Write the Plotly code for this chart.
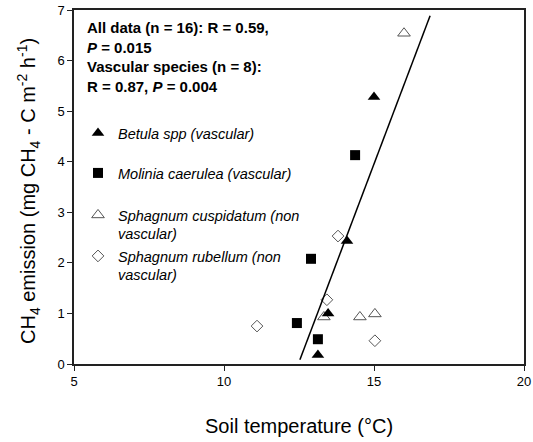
import plotly.graph_objects as go

# Data
betula_x = [15.0, 14.1, 13.47, 13.13]
betula_y = [5.28, 2.43, 1.0, 0.18]
molinia_x = [14.37, 12.9, 12.43, 13.13]
molinia_y = [4.13, 2.08, 0.81, 0.49]
cusp_x = [16.0, 13.33, 14.53, 15.03]
cusp_y = [6.54, 0.93, 0.93, 0.99]
rub_x = [13.8, 13.43, 11.1, 15.03]
rub_y = [2.53, 1.27, 0.75, 0.46]

fit_slope = 1.567
fit_intercept = -19.55
fit_x = [12.53, 16.87]
fit_y = [fit_slope * v + fit_intercept for v in fit_x]

x_ticks = [5, 10, 15, 20]
y_ticks = [0, 1, 2, 3, 4, 5, 6, 7]

FONT = "Liberation Sans, Arial, sans-serif"

fig = go.Figure()
fig.add_trace(go.Scatter(x=cusp_x, y=cusp_y, mode="markers",
                         name="<i>Sphagnum cuspidatum (non<br>vascular)</i>",
                         marker=dict(symbol="triangle-up-open", size=11, color="#555555", line=dict(width=1)),
                         legend="legend3"))
fig.add_trace(go.Scatter(x=rub_x, y=rub_y, mode="markers",
                         name="<i>Sphagnum rubellum (non<br>vascular)</i>",
                         marker=dict(symbol="diamond-open", size=9, color="#555555", line=dict(width=1)),
                         legend="legend4"))
fig.add_trace(go.Scatter(x=fit_x, y=fit_y, mode="lines", showlegend=False,
                         line=dict(color="black", width=1.5)))
fig.add_trace(go.Scatter(x=molinia_x, y=molinia_y, mode="markers",
                         name="<i>Molinia caerulea (vascular)</i>",
                         marker=dict(symbol="square", size=10, color="black"),
                         legend="legend2"))
fig.add_trace(go.Scatter(x=betula_x, y=betula_y, mode="markers",
                         name="<i>Betula spp (vascular)</i>",
                         marker=dict(symbol="triangle-up", size=11, color="black"),
                         legend="legend"))

PH = 354.0  # plot area height in px
PW = 450.0


def leg(top_px):
    return dict(x=(78 - 74) / PW, y=(364 - top_px) / PH, xanchor="left", yanchor="top",
                bgcolor="rgba(0,0,0,0)",
                font=dict(family=FONT, size=14.5, color="black"), valign="top",
                itemwidth=30)


axis_common = dict(ticks="outside", ticklen=5, showgrid=False, zeroline=False,
                   showline=True, mirror=True, linecolor="#222222", linewidth=1.5,
                   tickcolor="#222222", tickfont=dict(size=13, family=FONT), automargin=False)

fig.update_layout(
    width=533, height=442,
    margin=dict(l=74, r=9, t=10, b=78),
    paper_bgcolor="white", plot_bgcolor="white",
    font=dict(family=FONT, color="black"),
    legend=leg(117),
    legend2=leg(157),
    legend3=leg(199),
    legend4=leg(240),
    xaxis=dict(range=[5, 20], tickvals=x_ticks, **axis_common),
    yaxis=dict(range=[0, 7], tickvals=y_ticks, **axis_common),
    annotations=[
        dict(xref="paper", yref="paper", x=(85 - 74) / PW, y=(364 - 17) / PH, xanchor="left", yanchor="top",
             align="left", showarrow=False,
             text="<b>All data (n = 16): R = 0.59,<br><i>P</i> = 0.015<br>Vascular species (n = 8):<br>R = 0.87, <i>P</i> = 0.004</b>",
             font=dict(size=15, family=FONT, color="black")),
        dict(xref="paper", yref="paper", x=0.5, y=(364 - 426) / PH, xanchor="center", yanchor="middle",
             showarrow=False, text="Soil temperature (°C)",
             font=dict(size=20, family=FONT, color="black")),
        dict(xref="paper", yref="paper", x=(28 - 74) / PW, y=(364 - 191) / PH, xanchor="center",
             yanchor="middle", textangle=-90, showarrow=False,
             text="CH<sub>4</sub> emission (mg CH<sub>4</sub> - C m<sup>-2</sup> h<sup>-1</sup>)",
             font=dict(size=20, family=FONT, color="black")),
    ],
)

fig.write_html(
    "out.html",
    config={"displayModeBar": False},
    post_script="document.documentElement.style.overflow='hidden';"
                "document.body.style.margin='0px';document.body.style.overflow='hidden';",
)
